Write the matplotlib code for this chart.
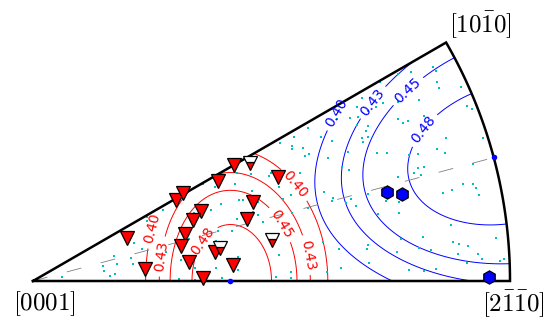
import numpy as np
import matplotlib
matplotlib.use('Agg')
import matplotlib.pyplot as plt

plt.rcParams['mathtext.fontset'] = 'cm'

# contour levels of the Schmid factor maps
levels = [0.40, 0.43, 0.45, 0.48]

# label positions (stereographic x, y) for the contour labels
basal_label_pos = [(0.245, 0.111), (0.266, 0.052), (0.346, 0.090),
                   (0.535, 0.191), (0.507, 0.111), (0.577, 0.055)]
prism_label_pos = [(0.629, 0.358), (0.700, 0.384), (0.776, 0.409), (0.811, 0.323)]

# measured grain orientations (stereographic projection coords)
dot_x = [0.239, 0.239, 0.193, 0.212, 0.229, 0.170, 0.205, 0.210, 0.176, 0.147,
         0.149, 0.172, 0.161, 0.061,
         0.457, 0.428, 0.423, 0.356, 0.459, 0.432, 0.440, 0.394, 0.373, 0.461,
         0.338, 0.273, 0.428, 0.388, 0.417, 0.384, 0.308, 0.327, 0.279, 0.310,
         0.384, 0.430, 0.430, 0.340, 0.306, 0.396, 0.340, 0.482,
         0.382, 0.472, 0.499, 0.495, 0.472,
         0.690, 0.679, 0.665, 0.681, 0.637, 0.577, 0.547, 0.604, 0.627, 0.518,
         0.543, 0.543, 0.566, 0.579, 0.570, 0.618, 0.690, 0.702, 0.692, 0.698,
         0.679, 0.660, 0.648, 0.662, 0.560, 0.516, 0.541, 0.610, 0.629, 0.627,
         0.667, 0.656, 0.677, 0.702, 0.577, 0.524, 0.543, 0.642, 0.608, 0.700,
         0.702, 0.516, 0.616, 0.646, 0.541, 0.509, 0.541,
         0.727, 0.719, 0.702, 0.702,
         0.839, 0.845, 0.792, 0.765, 0.847, 0.851, 0.897, 0.809, 0.765, 0.734,
         0.910, 0.920, 0.820, 0.765, 0.786, 0.776, 0.866, 0.943, 0.847, 0.864,
         0.807, 0.788, 0.742, 0.721,
         0.922, 0.807, 0.820, 0.799, 0.813, 0.765, 0.901, 0.922, 0.929, 0.935,
         0.878, 0.860, 0.740, 0.767, 0.723, 0.767, 0.876, 0.818, 0.771, 0.880,
         0.893, 0.912, 0.971, 0.809, 0.834, 0.763, 0.891, 0.933, 0.941, 0.910,
         0.979, 0.987, 0.788, 0.820, 0.845, 0.704]
dot_y = [0.134, 0.126, 0.101, 0.080, 0.067, 0.052, 0.048, 0.036, 0.036, 0.031,
         0.021, 0.015, 0.010, 0.008,
         0.224, 0.226, 0.203, 0.203, 0.189, 0.170, 0.170, 0.161, 0.149, 0.145,
         0.143, 0.149, 0.130, 0.105, 0.105, 0.084, 0.084, 0.088, 0.061, 0.044,
         0.027, 0.050, 0.023, 0.027, 0.004, 0.006, 0.002, 0.124,
         0.197, 0.166, 0.226, 0.220, 0.138,
         0.384, 0.365, 0.342, 0.344, 0.340, 0.321, 0.302, 0.302, 0.293, 0.289,
         0.283, 0.277, 0.279, 0.266, 0.262, 0.258, 0.300, 0.302, 0.291, 0.314,
         0.327, 0.270, 0.239, 0.233, 0.226, 0.197, 0.180, 0.187, 0.174, 0.168,
         0.172, 0.164, 0.157, 0.182, 0.153, 0.172, 0.143, 0.067, 0.082, 0.067,
         0.075, 0.055, 0.019, 0.027, 0.019, 0.008, 0.006,
         0.417, 0.365, 0.356, 0.325,
         0.449, 0.440, 0.438, 0.434, 0.417, 0.405, 0.407, 0.379, 0.375, 0.373,
         0.367, 0.361, 0.346, 0.340, 0.335, 0.331, 0.300, 0.300, 0.277, 0.268,
         0.266, 0.264, 0.268, 0.268,
         0.245, 0.237, 0.239, 0.226, 0.222, 0.218, 0.203, 0.203, 0.195, 0.180,
         0.191, 0.184, 0.168, 0.166, 0.140, 0.143, 0.117, 0.092, 0.088, 0.082,
         0.078, 0.073, 0.090, 0.069, 0.065, 0.061, 0.057, 0.057, 0.046, 0.038,
         0.042, 0.046, 0.023, 0.021, 0.025, 0.038]

# basal-type grains (red triangles)
tri_x = [0.197, 0.235, 0.300, 0.314, 0.352, 0.335, 0.319, 0.310, 0.327, 0.356,
         0.382, 0.388, 0.421, 0.461, 0.449, 0.419, 0.514]
tri_y = [0.090, 0.025, 0.170, 0.184, 0.147, 0.128, 0.099, 0.073, 0.040, 0.006,
         0.061, 0.210, 0.243, 0.166, 0.130, 0.034, 0.218]
# half filled triangles
half_x = [0.455, 0.501, 0.392]
half_y = [0.247, 0.086, 0.069]

# prismatic-type grains (blue hexagons)
hex_x = [0.742, 0.774, 0.956]
hex_y = [0.187, 0.182, 0.008]

# maxima of the two Schmid factor maps
max_x = [0.414, 0.966]
max_y = [0.000, 0.259]

sector_deg = 30.0
mid_deg = 15.0


def basal_sf(phi, psi):
    a_dirs = np.radians([0, 120, 240])
    vals = [np.abs(np.cos(phi) * np.sin(phi) * np.cos(psi - a)) for a in a_dirs]
    return np.max(vals, axis=0)


def prism_sf(phi, psi):
    normals = np.radians([30, 90, 150])
    vals = [np.sin(phi)**2 * np.abs(np.sin(2 * (psi - n))) / 2 for n in normals]
    return np.max(vals, axis=0)


r = np.linspace(0, 1, 400)
psi = np.linspace(0, np.radians(sector_deg), 300)
R, PSI = np.meshgrid(r, psi)
X = R * np.cos(PSI)
Y = R * np.sin(PSI)
PHI = 2 * np.arctan(R)

fig = plt.figure(figsize=(5.45, 3.22), dpi=100)
ax = fig.add_axes([33 / 545, 41 / 322, 477 / 545, 238.5 / 322])
ax.set_xlim(0, 1)
ax.set_ylim(0, 0.5)
ax.axis('off')

cs_b = ax.contour(X, Y, basal_sf(PHI, PSI), levels=levels, colors='red', linewidths=0.7)
ax.clabel(cs_b, manual=basal_label_pos, inline=True, fmt='%.2f', fontsize=10)
cs_p = ax.contour(X, Y, prism_sf(PHI, PSI), levels=levels, colors='blue', linewidths=0.7)
ax.clabel(cs_p, manual=prism_label_pos, inline=True, fmt='%.2f', fontsize=10)

# dashed line to the middle of the arc
m = np.radians(mid_deg)
ax.plot([0, np.cos(m)], [0, np.sin(m)], color='gray', lw=0.6, ls=(0, (18, 24)))

ax.plot(dot_x, dot_y, 's', color='c', ms=1.7, mew=0)

# sector boundary
t = np.linspace(0, np.radians(sector_deg), 100)
bx = np.concatenate([[0], np.cos(t), [0]])
by = np.concatenate([[0], np.sin(t), [0]])
ax.plot(bx, by, color='black', lw=1.8, clip_on=False, solid_joinstyle='miter')

ax.plot(max_x, max_y, 'o', color='blue', ms=4, mew=0, clip_on=False)
ax.plot(tri_x, tri_y, 'v', ms=9.5, mfc='red', mec='black', mew=0.9, clip_on=False)
ax.plot(half_x, half_y, 'v', ms=9.5, fillstyle='bottom', mfc='red', mfcalt='white',
        mec='black', mew=0.9, clip_on=False)
ax.plot(hex_x, hex_y, 'h', ms=9.5, mfc='blue', mec='black', mew=0.9, clip_on=False)

fig.text(44 / 545, 1 - 304 / 322, r'$[0001]$', fontsize=18, ha='center', va='center')
fig.text(513 / 545, 1 - 304 / 322, r'$[2\bar{1}\bar{1}0]$', fontsize=18, ha='center', va='center')
fig.text(480 / 545, 1 - 25 / 322, r'$[10\bar{1}0]$', fontsize=18, ha='center', va='center')

fig.savefig('out.png', dpi=100)
